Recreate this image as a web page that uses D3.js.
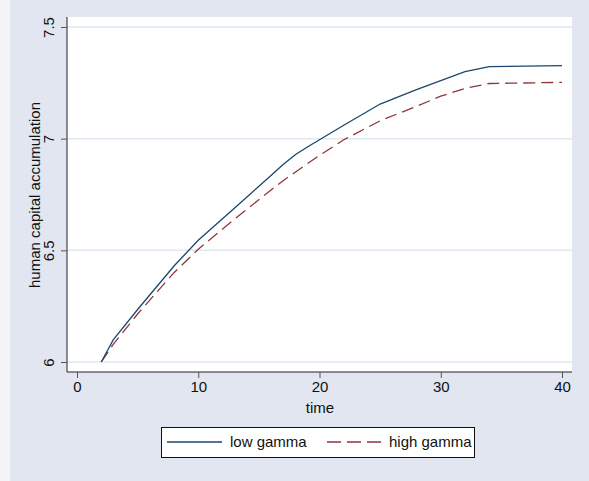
<!DOCTYPE html>
<html lang="en">
<head>
    <meta charset="UTF-8">
    <title>Human capital accumulation</title>
    <script src="https://d3js.org/d3.v7.min.js"></script>
    <style>
        body { margin: 0; }
        svg { display: block; font-family: "Liberation Sans", Arial, sans-serif; }
    </style>
</head>
<body>
    <svg width="589" height="481"></svg>

    <script>
        // values
        const time = [2, 3, 5, 8, 10, 13, 16, 17, 18, 19, 20, 22, 25, 28, 30, 32, 34, 40];
        const lowGamma  = [6.00, 6.10, 6.235, 6.43, 6.545, 6.69, 6.835, 6.884, 6.928, 6.963, 6.995, 7.06, 7.155, 7.22, 7.26, 7.30, 7.323, 7.327];
        const highGamma = [6.00, 6.08, 6.215, 6.40, 6.505, 6.64, 6.77, 6.812, 6.85, 6.888, 6.925, 6.995, 7.08, 7.145, 7.19, 7.225, 7.247, 7.252];
        const xTicks = [0, 10, 20, 30, 40];
        const yTicks = [6, 6.5, 7, 7.5];
        const seriesNames = ["low gamma", "high gamma"];

        const width = 589, height = 481;
        const plot = {left: 67, right: 572, top: 17, bottom: 372};

        const svg = d3.select("svg");

        // backgrounds
        svg.append("rect").attr("width", width).attr("height", height).attr("fill", "#f3f4f7");
        svg.append("rect").attr("x", 10).attr("width", width - 10).attr("height", height).attr("fill", "#e1e6f0");
        svg.append("rect")
            .attr("x", plot.left).attr("y", plot.top)
            .attr("width", plot.right - plot.left).attr("height", plot.bottom - plot.top)
            .attr("fill", "white");

        const x = d3.scaleLinear().domain([0, 40]).range([77, 562]);
        const y = d3.scaleLinear().domain([6, 7.5]).range([362, 27]);

        // horizontal grid
        svg.append("g").selectAll("line")
            .data(yTicks)
            .join("line")
            .attr("x1", plot.left).attr("x2", plot.right)
            .attr("y1", d => y(d)).attr("y2", d => y(d))
            .attr("stroke", "#e1e6f0")
            .attr("stroke-width", 1.5);

        // y axis
        const yAxis = svg.append("g")
            .attr("transform", `translate(${plot.left},0)`)
            .call(d3.axisLeft(y).tickValues(yTicks).tickSize(6).tickFormat(d3.format("")));
        yAxis.select(".domain").attr("d", `M0,${plot.top}V${plot.bottom}`).attr("stroke", "#222");
        yAxis.selectAll(".tick line").attr("stroke", "#555");
        yAxis.selectAll(".tick text")
            .attr("transform", "rotate(-90)")
            .attr("x", 0).attr("y", -18)
            .attr("dy", "0.35em")
            .attr("text-anchor", "middle")
            .attr("font-size", 15)
            .attr("fill", "#111")
            .attr("font-family", "Liberation Sans, Arial, sans-serif");

        // x axis
        const xAxis = svg.append("g")
            .attr("transform", `translate(0,${plot.bottom})`)
            .call(d3.axisBottom(x).tickValues(xTicks).tickSize(6).tickPadding(3));
        xAxis.select(".domain").attr("d", `M${plot.left},0H${plot.right}`).attr("stroke", "#222");
        xAxis.selectAll(".tick line").attr("stroke", "#555");
        xAxis.selectAll(".tick text")
            .attr("font-size", 15)
            .attr("fill", "#111")
            .attr("font-family", "Liberation Sans, Arial, sans-serif");

        // axis titles
        svg.append("text")
            .attr("x", 320).attr("y", 413)
            .attr("text-anchor", "middle")
            .attr("font-size", 15)
            .attr("fill", "#111")
            .text("time");

        svg.append("text")
            .attr("transform", "rotate(-90)")
            .attr("x", -195).attr("y", 40)
            .attr("text-anchor", "middle")
            .attr("font-size", 15)
            .attr("fill", "#111")
            .text("human capital accumulation");

        // lines
        const line = d3.line()
            .x((d, i) => x(time[i]))
            .y(d => y(d));

        svg.append("path")
            .datum(highGamma)
            .attr("d", line)
            .attr("fill", "none")
            .attr("stroke", "#90353b")
            .attr("stroke-width", 1.3)
            .attr("stroke-dasharray", "12,6");

        svg.append("path")
            .datum(lowGamma)
            .attr("d", line)
            .attr("fill", "none")
            .attr("stroke", "#1a476f")
            .attr("stroke-width", 1.3);

        // legend
        const legend = svg.append("g");
        legend.append("rect")
            .attr("x", 161.5).attr("y", 427.5)
            .attr("width", 313).attr("height", 30)
            .attr("fill", "white")
            .attr("stroke", "#111");

        legend.append("line")
            .attr("x1", 167).attr("x2", 222).attr("y1", 442).attr("y2", 442)
            .attr("stroke", "#1a476f").attr("stroke-width", 1.3);
        legend.append("text")
            .attr("x", 230).attr("y", 447)
            .attr("font-size", 15).attr("fill", "#111")
            .text(seriesNames[0]);

        legend.append("line")
            .attr("x1", 327).attr("x2", 381).attr("y1", 442).attr("y2", 442)
            .attr("stroke", "#90353b").attr("stroke-width", 1.3)
            .attr("stroke-dasharray", "14,6");
        legend.append("text")
            .attr("x", 389).attr("y", 447)
            .attr("font-size", 15).attr("fill", "#111")
            .text(seriesNames[1]);
    </script>
</body>
</html>
